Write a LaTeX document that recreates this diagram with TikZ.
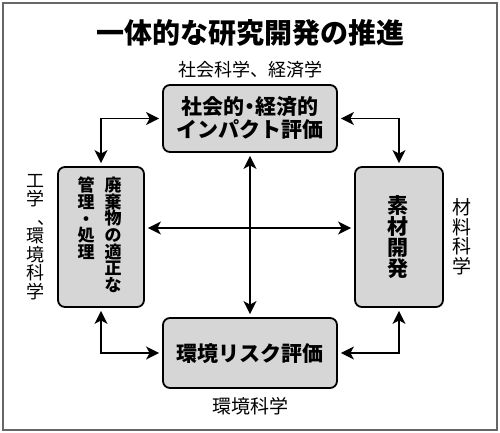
\documentclass[tikz,border=0pt]{standalone}
\usepackage{fontspec}
\usetikzlibrary{arrows.meta}
\newfontfamily\jp{Noto Sans CJK JP}
\newcommand\vcm{\makebox[1em][l]{\hspace{0.58em}\raisebox{0em}[0pt][0pt]{\makebox[0pt][l]{、}}}}
\tikzset{
  box/.style={draw=black, line width=1.8pt, rounded corners=7pt, fill=black!16, inner sep=0pt},
  arr/.style={line width=1.7pt, {Stealth[length=13pt,width=13pt,inset=3.5pt]}-{Stealth[length=13pt,width=13pt,inset=3.5pt]}, shorten <=3pt, shorten >=3pt},
  lbl/.style={font=\jp\fontsize{18}{18}\selectfont, inner sep=0pt},
  vlbl/.style={font=\jp\fontsize{18}{18.5}\selectfont, align=center, inner sep=0pt},
  btxt/.style={font=\jp\bfseries\fontsize{21}{23}\selectfont, align=center, inner sep=0pt},
}
\begin{document}
\begin{tikzpicture}[x=1pt,y=-1pt]
\useasboundingbox (0,0) rectangle (500,433);
\draw[black!60, line width=1.3pt] (3,3) rectangle (497,430);
% title and labels
\node[font=\jp\bfseries\fontsize{28}{28}\selectfont, inner sep=0pt] (title) at (250,33) {一体的な研究開発の推進};
\node[lbl] (ltop) at (250,70) {社会科学、経済学};
\node[lbl, font=\jp\fontsize{19}{19}\selectfont] (lbot) at (250,406) {環境科学};
\node[vlbl] (lleft) at (36,237) {工\\学\\\vcm\\環\\境\\科\\学};
\node[vlbl, font=\jp\fontsize{19}{19.5}\selectfont] (lright) at (462,237) {材\\料\\科\\学};
% boxes
\node[box, minimum width=174pt, minimum height=67pt] (top) at (250,118.5) {};
\node[btxt] (toptxt) at (250,118.5) {社会的\hspace{-0.25em}・\hspace{-0.25em}経済的\\インパクト評価};
\node[box, minimum width=174pt, minimum height=70pt] (bot) at (250,353) {};
\node[btxt] (bottxt) at (250,354) {環境リスク評価};
\node[box, minimum width=86pt, minimum height=140pt] (left) at (101,237) {};
\node[font=\jp\bfseries\fontsize{17}{16.6}\selectfont, align=center, inner sep=0pt, anchor=north] (lt1) at (113,177) {廃\\棄\\物\\の\\適\\正\\な};
\node[font=\jp\bfseries\fontsize{17}{16.6}\selectfont, align=center, inner sep=0pt, anchor=north] (lt2) at (86,177) {管\\理\\・\\処\\理};
\node[box, minimum width=88pt, minimum height=140pt] (right) at (399,237) {};
\node[font=\jp\bfseries\fontsize{21}{21}\selectfont, align=center, inner sep=0pt] (rt) at (398,237) {素\\材\\開\\発};
% connectors
\coordinate (hy) at (0,228);
\draw[arr] (top.west) -| (left.north);
\draw[arr] (top.east) -| (right.north);
\draw[arr] (left.south) |- (bot.west);
\draw[arr] (right.south) |- (bot.east);
\draw[arr] (top.south) -- (bot.north);
\draw[arr] (left.east |- hy) -- (right.west |- hy);
\end{tikzpicture}
\end{document}
